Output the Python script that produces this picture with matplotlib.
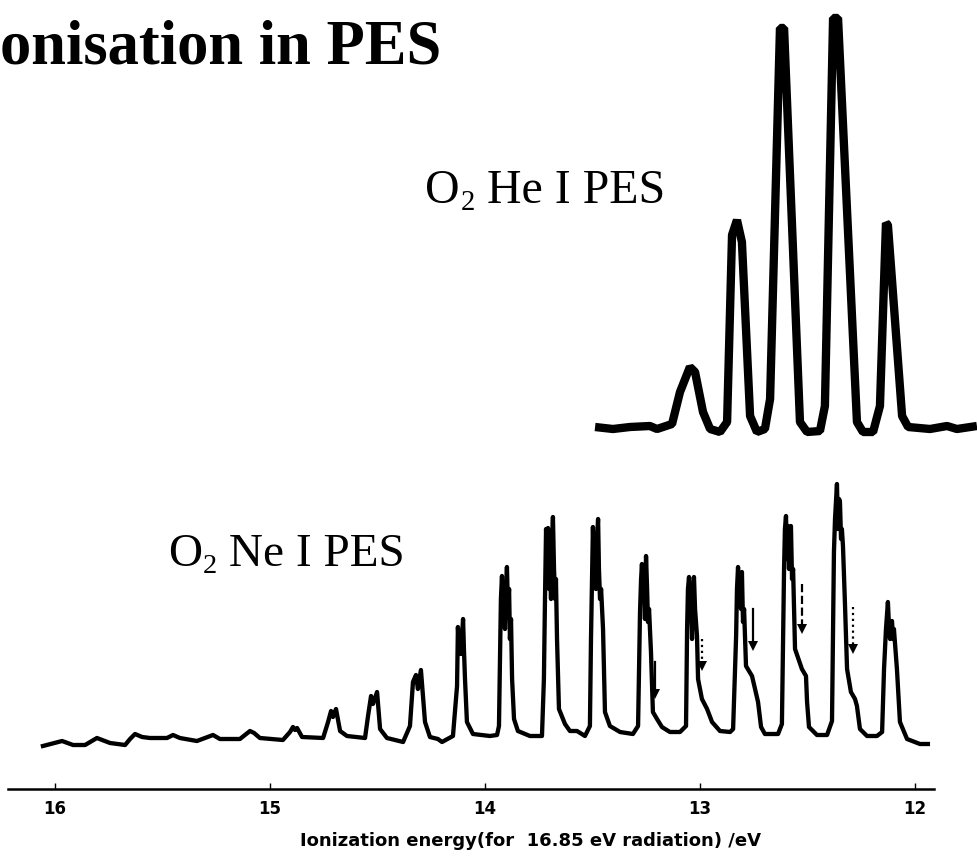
import matplotlib
matplotlib.use("Agg")
import matplotlib.pyplot as plt

# O2 Ne I photoelectron spectrum (trace): ionization energy / eV, intensity / arb. units
ne_energy = [
    16.056, 15.967, 15.916, 15.860, 15.805, 15.744, 15.674, 15.651, 15.628, 15.595,
    15.558, 15.479, 15.451, 15.419, 15.340, 15.302, 15.265, 15.233, 15.140, 15.093,
    15.074, 15.047, 14.940, 14.907, 14.893, 14.884, 14.874, 14.851, 14.753, 14.730,
    14.716, 14.707, 14.693, 14.674, 14.642, 14.558, 14.544, 14.530, 14.521, 14.502,
    14.488, 14.456, 14.381, 14.349, 14.335, 14.321, 14.312, 14.298, 14.279, 14.256,
    14.219, 14.200, 14.149,
    14.130, 14.126, 14.121, 14.116, 14.112, 14.102, 14.098, 14.093, 14.084, 14.056, 13.977, 13.944,
    13.935, 13.930, 13.926, 13.921, 13.916, 13.912, 13.907, 13.902, 13.898, 13.893, 13.888, 13.884,
    13.879, 13.874, 13.865, 13.847, 13.791,
    13.735, 13.726, 13.721, 13.716, 13.712, 13.707, 13.702, 13.698, 13.693, 13.688, 13.684, 13.679,
    13.674, 13.670, 13.665, 13.656, 13.628, 13.605, 13.572, 13.535,
    13.512, 13.507, 13.502, 13.498, 13.493, 13.488, 13.484, 13.479, 13.474, 13.470, 13.465, 13.460,
    13.451, 13.442, 13.419, 13.372, 13.312,
    13.288, 13.279, 13.274, 13.270, 13.265, 13.260, 13.256, 13.251, 13.246, 13.242, 13.237, 13.228,
    13.219, 13.200, 13.177, 13.140, 13.093,
    13.065, 13.060, 13.056, 13.051, 13.046, 13.042, 13.037, 13.033, 13.028, 13.023, 13.014, 13.009,
    12.991, 12.967, 12.944, 12.907, 12.860,
    12.846, 12.832, 12.828, 12.823, 12.819, 12.814, 12.809, 12.805, 12.800, 12.795, 12.786, 12.758,
    12.744, 12.730, 12.716, 12.698, 12.637,
    12.619, 12.609, 12.605, 12.600, 12.595, 12.591, 12.586, 12.581, 12.577, 12.572, 12.567, 12.558,
    12.526, 12.507, 12.502, 12.493, 12.456, 12.409,
    12.386, 12.377, 12.372, 12.363, 12.358, 12.353, 12.349, 12.344, 12.340, 12.335, 12.326, 12.316,
    12.298, 12.279, 12.270, 12.256, 12.223, 12.177,
    12.153, 12.144, 12.135, 12.126, 12.121, 12.116, 12.112, 12.107, 12.102, 12.098, 12.084, 12.070,
    12.037, 11.977, 11.940,
]
ne_intensity = [
    -2, 3, -1, -1, 6, 1, -1, 5, 10, 7,
    6, 6, 9, 6, 3, 6, 9, 5, 5, 13,
    11, 6, 4, 12, 17, 14, 16, 7, 6, 22,
    33, 27, 35, 13, 8, 6, 28, 48, 40, 52,
    15, 6, 2, 18, 62, 69, 55, 74, 22, 7,
    5, 2, 8,
    58, 117, 95, 113, 90, 125, 95, 65, 22, 10, 8, 9,
    18, 85, 145, 168, 125, 150, 115, 155, 177, 135, 155, 105,
    125, 65, 25, 13, 8,
    8, 65, 145, 215, 185, 216, 155, 195, 145, 205, 227, 175,
    145, 165, 105, 35, 20, 13, 13, 8,
    18, 105, 165, 217, 175, 195, 155, 205, 225, 175, 145, 155,
    115, 32, 18, 12, 10,
    18, 132, 165, 180, 145, 165, 125, 188, 155, 122, 135, 92,
    32, 25, 17, 12, 12,
    18, 115, 155, 167, 125, 145, 105, 155, 167, 135, 108, 65,
    45, 35, 22, 13, 12,
    15, 108, 155, 177, 145, 170, 135, 172, 122, 135, 78, 68,
    55, 42, 17, 10, 10,
    20, 175, 215, 228, 185, 218, 175, 205, 218, 165, 175, 95,
    75, 68, 42, 17, 9, 9,
    23, 192, 225, 260, 215, 245, 242, 205, 215, 198, 142, 75,
    52, 45, 38, 15, 8, 8,
    12, 75, 115, 142, 118, 105, 120, 123, 105, 115, 75, 22,
    5, 0, 0,
]

# O2 He I photoelectron spectrum (trace)
he_energy = [
    13.488, 13.405, 13.326, 13.233, 13.200, 13.130, 13.093, 13.047, 13.023, 12.986,
    12.953, 12.907, 12.874, 12.851, 12.828, 12.805, 12.767, 12.735, 12.698, 12.674,
    12.628, 12.609, 12.535, 12.502, 12.442, 12.419, 12.381, 12.358, 12.270, 12.242,
    12.195, 12.163, 12.135, 12.126, 12.060, 12.032, 11.930, 11.851, 11.805, 11.712,
]
he_intensity = [
    4, 2, 4, 5, 2, 7, 39, 64, 59, 19,
    2, -1, 9, 196, 211, 189, 15, -1, 2, 32,
    403, 403, 9, -1, 0, 25, 413, 413, 9, -1,
    -1, 25, 208, 206, 15, 4, 2, 5, 2, 5,
]

tick_values = [16, 15, 14, 13, 12]
tick_labels = ["16", "15", "14", "13", "12"]

# arrows marking the Ne I 16.67 eV satellite shoulders
arrow_energy = [13.209, 12.991, 12.754, 12.526, 12.288]
arrow_start = [82, 105, 135, 160, 137]
arrow_tip = [47, 75, 95, 112, 92]
arrow_styles = ["-", ":", "-", "--", ":"]

assert len(ne_energy) == len(ne_intensity)
assert len(he_energy) == len(he_intensity)

W, H = 977, 862
fig = plt.figure(figsize=(W / 100, H / 100), dpi=100)
fig.patch.set_facecolor("white")

xlim = (16.2558, 11.7116)
narrow = ["DejaVu Sans Condensed", "Liberation Sans Narrow", "DejaVu Sans"]
serif = "Liberation Serif"

# lower panel: Ne I spectrum with energy axis
ax_ne = fig.add_axes([0, 72 / H, 1, 350 / H])
ax_ne.set_xlim(*xlim)
ax_ne.set_ylim(-45, 305)
ax_ne.patch.set_alpha(0)
ax_ne.plot(ne_energy, ne_intensity, color="black", lw=3.1,
           solid_joinstyle="round")
for e, y0, y1, ls in zip(arrow_energy, arrow_start, arrow_tip, arrow_styles):
    ax_ne.plot([e, e], [y0, y1 + 6], color="black", lw=1.6, ls=ls)
    ax_ne.plot([e], [y1 + 3], marker="v", ms=7, color="black", mew=0)

for side in ("left", "right", "top"):
    ax_ne.spines[side].set_visible(False)
ax_ne.spines["bottom"].set_bounds(16.218, 11.912)
ax_ne.spines["bottom"].set_linewidth(1.8)
ax_ne.set_yticks([])
ax_ne.set_xticks(tick_values)
ax_ne.set_xticklabels(tick_labels)
ax_ne.tick_params(axis="x", direction="in", length=4, width=1.0, pad=7,
                  labelsize=12)
for lab in ax_ne.get_xticklabels():
    lab.set_family(narrow)
    lab.set_fontweight("bold")
ax_ne.set_xlabel("Ionization energy(for  16.85 eV radiation) /eV",
                 family=narrow, fontsize=13, fontweight="bold")
ax_ne.xaxis.set_label_coords(531 / W, -(832 - 790) / 350)

# upper panel: He I spectrum on the same energy scale
ax_he = fig.add_axes([0, 402 / H, 1, 460 / H])
ax_he.set_xlim(*xlim)
ax_he.set_ylim(-28, 432)
ax_he.axis("off")
ax_he.plot(he_energy, he_intensity, color="black", lw=6,
           solid_joinstyle="bevel", solid_capstyle="butt")

fig.text(0.0, 1 - 63 / H, "onisation in PES", family=serif,
         fontweight="bold", fontsize=45, va="baseline", ha="left")


def o2_label(x, y, rest, size):
    """Write 'O2 <rest>' with a small dropped subscript 2."""
    t_o = fig.text(x, y, "O", family=serif, fontsize=size, va="bottom",
                   ha="left")
    sub = ax_he.annotate("2", xy=(1, 0), xycoords=t_o, xytext=(0.5, 2.5),
                         textcoords="offset points", family=serif,
                         fontsize=size * 0.6, va="baseline", ha="left",
                         annotation_clip=False)
    ax_he.annotate(rest, xy=(1, 0), xycoords=(sub, t_o), xytext=(0, 0),
                   textcoords="offset points", family=serif, fontsize=size,
                   va="bottom", ha="left", annotation_clip=False)


o2_label(425 / W, 1 - 213 / H, " He I PES", 34.5)
o2_label(168 / W, 1 - 576 / H, " Ne I PES", 34)

fig.savefig("out.png", dpi=100, facecolor="white")
